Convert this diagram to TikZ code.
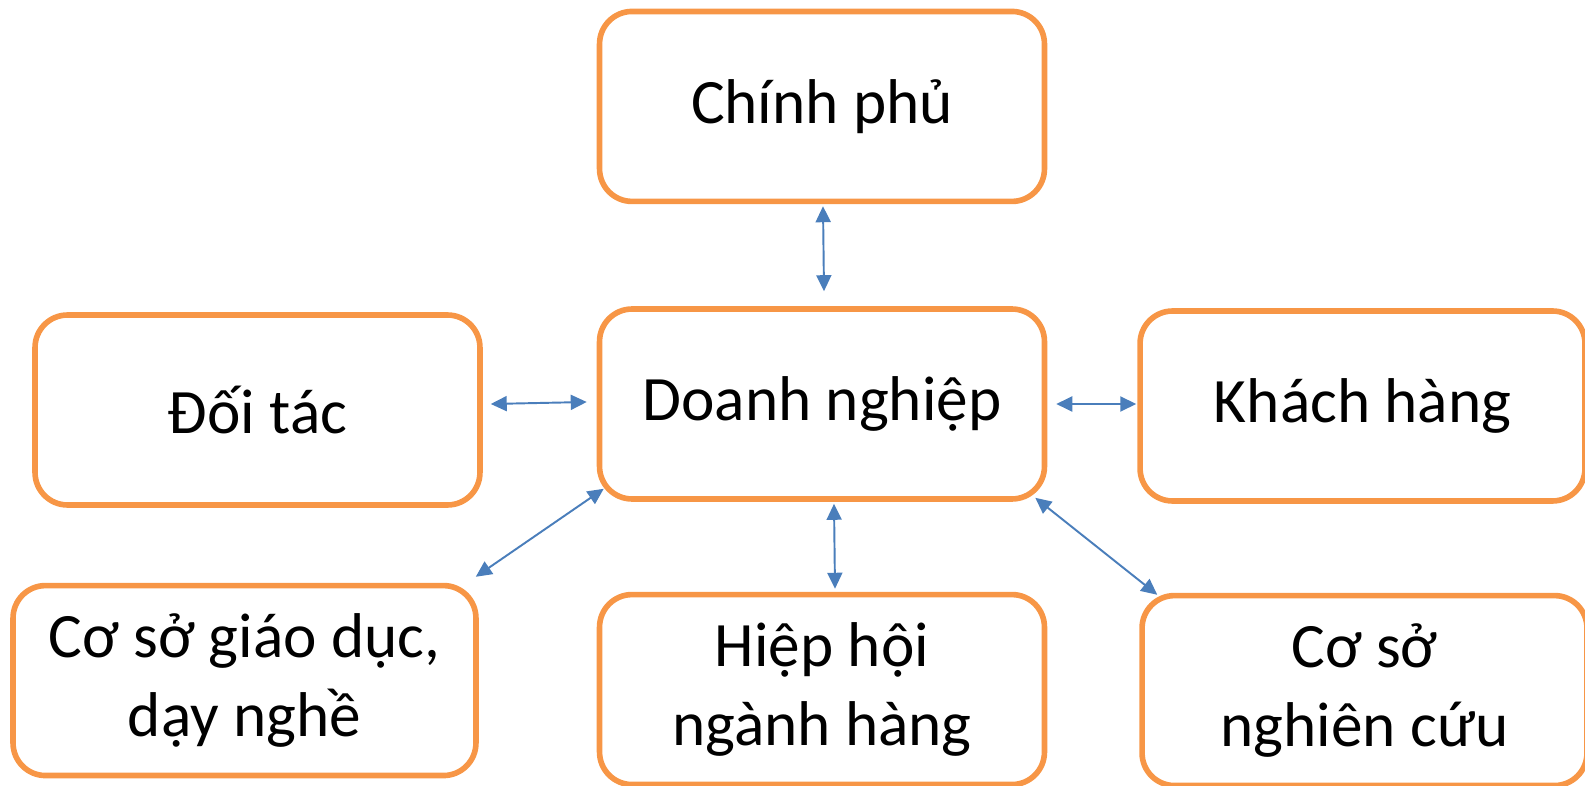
\documentclass[tikz,border=0pt]{standalone}
\usepackage{fontspec}
\setmainfont{Carlito}
\usepackage{xcolor}
\usetikzlibrary{arrows.meta, positioning}

\definecolor{boxorange}{HTML}{F79646}
\definecolor{linkblue}{HTML}{4A7EBB}

\begin{document}
\begin{tikzpicture}[
    x=0.02cm, y=-0.02cm,
    actor/.style={rectangle, draw=boxorange, line width=3.2pt, rounded corners=0.65cm, minimum width=8.9cm, minimum height=3.8cm, align=center, font=\fontsize{36}{45}\selectfont},
    link/.style={{Triangle[length=0.32cm,width=0.3cm]}-{Triangle[length=0.32cm,width=0.3cm]}, draw=linkblue, fill=linkblue, line width=1.1pt}
]
\useasboundingbox (0,0) rectangle (1585,786);

% Central node
\node[actor] (dn) at (822,404) {Doanh nghiệp};

% Surrounding actors
\node[actor, above=2.04cm of dn] (cp) {Chính phủ};
\node[actor, left=2.28cm of dn, yshift=-0.12cm] (dt) {Đối tác};
\node[actor, right=1.8cm of dn, yshift=-0.04cm] (kh) {Khách hàng};
\node[actor, below=1.8cm of dn] (hh) {Hiệp hội\\ngành hàng};
\node[actor, minimum width=9.26cm, below=1.5cm of dt, xshift=-0.26cm] (gd) {Cơ sở giáo dục,\\dạy nghề};
\node[actor, below=1.78cm of kh, xshift=0.04cm] (nc) {Cơ sở\\nghiên cứu};

% Two-way links
\draw[link] ([shift={(1,2)}]cp.south) -- ([shift={(2,-15)}]dn.north);
\draw[link] ([shift={(8,-6)}]dt.east) -- ([shift={(-10,-2)}]dn.west);
\draw[link] ([shift={(9,0)}]dn.east) -- ([shift={(-1,-2)}]kh.west);
\draw[link] ([shift={(7,-13)}]dn.south west) -- ([shift={(-3,-6)}]gd.north east);
\draw[link] ([shift={(12,2)}]dn.south) -- ([shift={(13,-3)}]hh.north);
\draw[link] ([shift={(-12,-4)}]dn.south east) -- ([shift={(18,2)}]nc.north west);

\end{tikzpicture}
\end{document}
